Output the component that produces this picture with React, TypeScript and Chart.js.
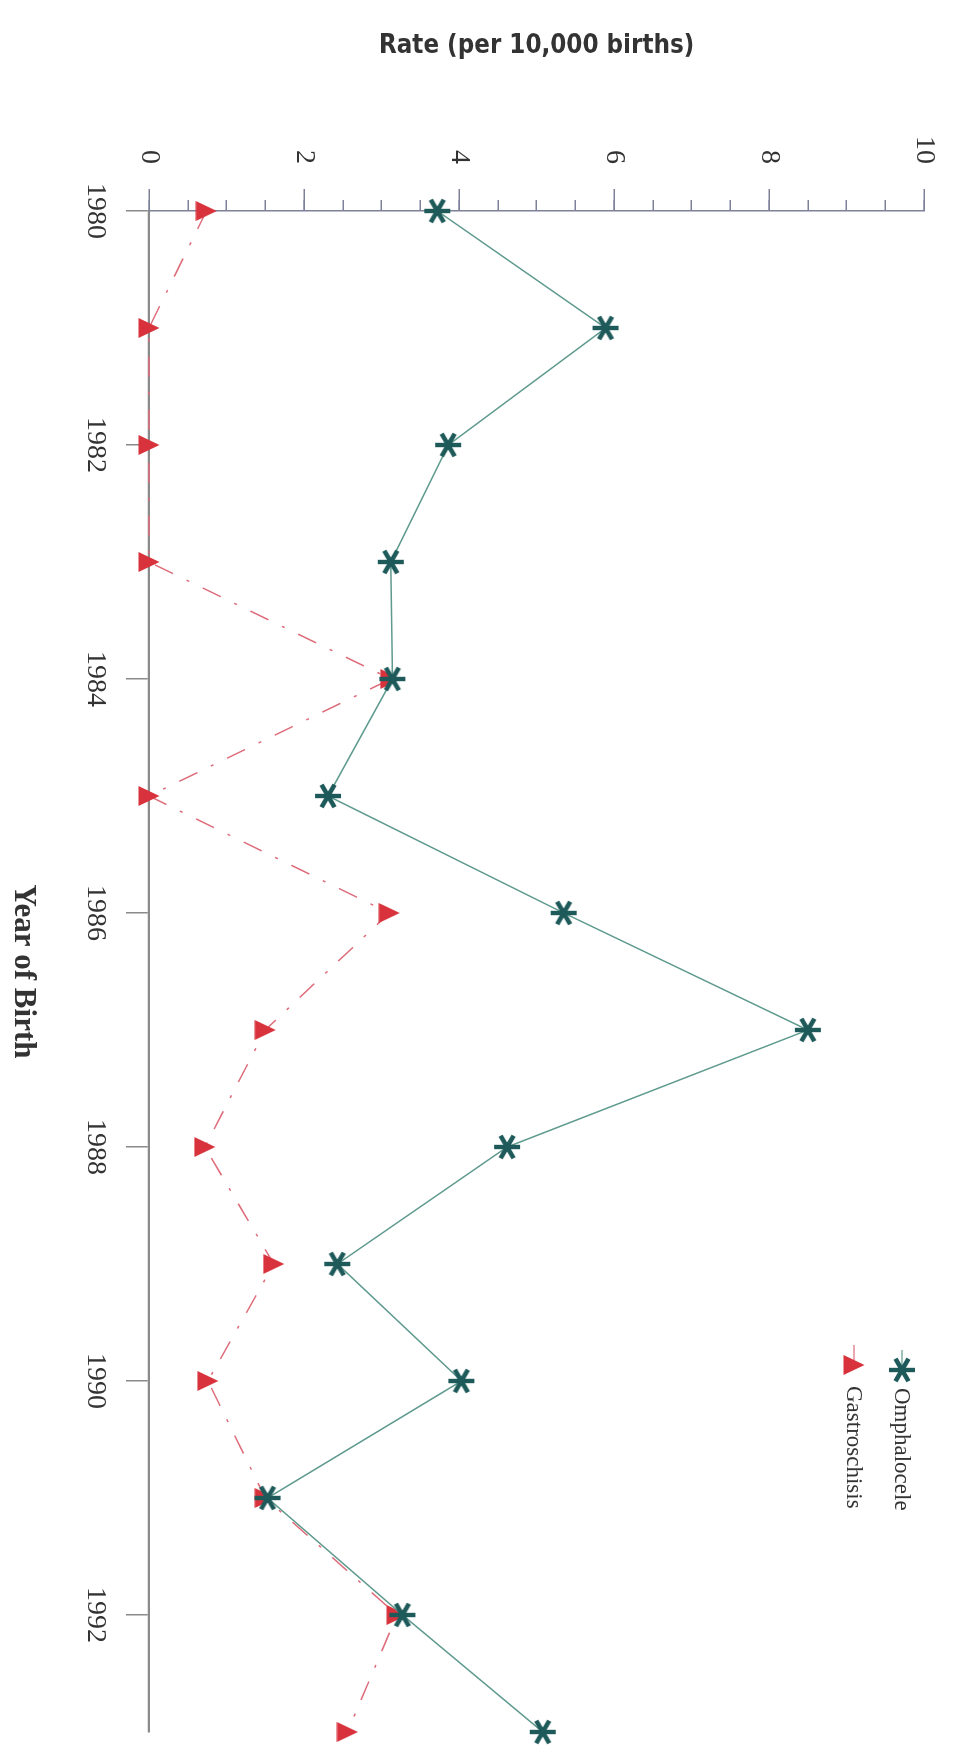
import React, { useEffect, useRef } from 'react';
import { Chart, registerables } from 'chart.js';

Chart.register(...registerables);

// ---- data ----
const years = [1980, 1981, 1982, 1983, 1984, 1985, 1986, 1987, 1988, 1989, 1990, 1991, 1992, 1993];
const omphalocele = [3.72, 5.89, 3.86, 3.12, 3.14, 2.31, 5.35, 8.5, 4.62, 2.43, 4.03, 1.53, 3.27, 5.08];
const gastroschisis = [0.74, 0, 0, 0, 3.12, 0, 3.1, 1.5, 0.72, 1.61, 0.76, 1.5, 3.2, 2.56];
const yearTicks = [1980, 1982, 1984, 1986, 1988, 1990, 1992];
const rateTicks = [0, 2, 4, 6, 8, 10];
const rateMinorTicks = [0, 0.5, 1, 1.5, 2, 2.5, 3, 3.5, 4, 4.5, 5, 5.5, 6, 6.5, 7, 7.5, 8, 8.5, 9, 9.5, 10];
const seriesNames = ['Omphalocele', 'Gastroschisis'];
const xTitle = 'Year of Birth';
const yTitle = 'Rate (per 10,000 births)';

// ---- styling ----
const W = 1753;
const H = 966;
const SERIF = "'Liberation Serif', 'Times New Roman', serif";
const SANS_NARROW = "'Liberation Sans Narrow', 'DejaVu Sans Condensed', 'Liberation Sans', Arial, sans-serif";
const OMPH_MARK = '#1f5a5a';
const OMPH_LINE = '#5f9a8e';
const GAS_MARK = '#d8323c';
const GAS_LINE = '#de6c7a';
const AXIS_H = '#7d8199';
const AXIS_V = '#8a8a8a';

function makeStar(color: string): HTMLCanvasElement {
  const c = document.createElement('canvas');
  c.width = 30;
  c.height = 30;
  const g = c.getContext('2d')!;
  g.strokeStyle = color;
  g.lineWidth = 4.4;
  g.lineCap = 'butt';
  const r = 13;
  for (let k = 0; k < 3; k++) {
    const a = Math.PI / 2 + (k * Math.PI) / 3;
    g.beginPath();
    g.moveTo(15 + r * Math.cos(a), 15 + r * Math.sin(a));
    g.lineTo(15 - r * Math.cos(a), 15 - r * Math.sin(a));
    g.stroke();
  }
  return c;
}

function makeTriangle(color: string): HTMLCanvasElement {
  const c = document.createElement('canvas');
  c.width = 22;
  c.height = 22;
  const g = c.getContext('2d')!;
  g.fillStyle = color;
  g.beginPath();
  g.moveTo(11, 0.5);
  g.lineTo(21, 21.5);
  g.lineTo(1, 21.5);
  g.closePath();
  g.fill();
  return c;
}

export default function App() {
  const ref = useRef<HTMLCanvasElement | null>(null);

  useEffect(() => {
    const canvas = ref.current;
    if (!canvas) return;

    // size the y-axis title to its measured length in the reference
    const mctx = document.createElement('canvas').getContext('2d')!;
    mctx.font = `bold 100px ${SANS_NARROW}`;
    const mw = mctx.measureText(yTitle).width || 1100;
    const yTitleSize = Math.round(((100 * 316) / mw) * 10) / 10;

    const star = makeStar(OMPH_MARK);
    const tri = makeTriangle(GAS_MARK);

    const legendPlugin = {
      id: 'insideLegend',
      afterDraw(chart: any) {
        const ctx = chart.ctx;
        const rows = [
          { img: star, line: OMPH_LINE, text: seriesNames[0], u: 1370, v: 64, tx: 1388 },
          { img: tri, line: GAS_LINE, text: seriesNames[1], u: 1365, v: 112, tx: 1386 },
        ];
        ctx.save();
        rows.forEach((r) => {
          ctx.strokeStyle = r.line;
          ctx.lineWidth = 1.2;
          ctx.beginPath();
          ctx.moveTo(r.u - 20, r.v);
          ctx.lineTo(r.u - 4, r.v);
          ctx.stroke();
          ctx.drawImage(r.img, r.u - r.img.width / 2, r.v - r.img.height / 2);
          ctx.fillStyle = '#333';
          ctx.font = `23px ${SERIF}`;
          ctx.textAlign = 'left';
          ctx.textBaseline = 'middle';
          ctx.fillText(r.text, r.tx, r.v + 1);
        });
        ctx.restore();
      },
    };

    Chart.defaults.color = '#333';

    const chart = new Chart(canvas, {
      type: 'line',
      data: {
        datasets: [
          {
            label: seriesNames[0],
            data: years.map((yr, i) => ({ x: yr, y: omphalocele[i] })),
            borderColor: OMPH_LINE,
            borderWidth: 1.5,
            pointStyle: star as any,
            pointRadius: 13,
            pointBackgroundColor: OMPH_MARK,
            pointBorderColor: OMPH_MARK,
            tension: 0,
            fill: false,
            clip: false as any,
            xAxisID: 'x',
            yAxisID: 'y',
          },
          {
            label: seriesNames[1],
            data: years.map((yr, i) => ({ x: yr, y: gastroschisis[i] })),
            borderColor: GAS_LINE,
            borderWidth: 1.5,
            borderDash: [20, 15, 3, 15],
            pointStyle: tri as any,
            pointRadius: 13,
            pointBackgroundColor: GAS_MARK,
            pointBorderColor: GAS_MARK,
            tension: 0,
            fill: false,
            clip: false as any,
            xAxisID: 'x',
            yAxisID: 'y',
          },
        ],
      },
      options: {
        responsive: false,
        devicePixelRatio: 1,
        animation: false,
        events: [],
        layout: { padding: { left: 0, top: 24, right: 21, bottom: 0 } },
        plugins: {
          legend: { display: false },
          tooltip: { enabled: false },
        },
        scales: {
          x: {
            type: 'linear',
            position: 'bottom',
            z: 1,
            min: 1980,
            max: 1993,
            afterBuildTicks: (s: any) => {
              s.ticks = yearTicks.map((v) => ({ value: v }));
            },
            afterFit: (s: any) => {
              s.height = 149;
            },
            ticks: {
              autoSkip: false,
              maxRotation: 0,
              padding: 14,
              color: '#333',
              font: { family: SERIF, size: 28 },
              callback: (v: any) => String(v),
            },
            grid: {
              drawOnChartArea: false,
              drawTicks: true,
              tickLength: 23,
              color: AXIS_V,
              lineWidth: 1.5,
            },
            border: { display: true, color: AXIS_V, width: 2.2 },
            title: {
              display: true,
              text: xTitle,
              color: '#333',
              font: { family: SERIF, size: 31, weight: 'bold' },
              padding: { top: 0, bottom: 4 },
            },
          },
          y: {
            type: 'linear',
            position: 'left',
            weight: 1,
            min: 0,
            max: 10,
            afterBuildTicks: (s: any) => {
              s.ticks = rateTicks.map((v) => ({ value: v }));
            },
            afterFit: (s: any) => {
              s.width = 211;
            },
            ticks: {
              padding: 25,
              color: '#333',
              font: { family: SERIF, size: 28 },
              callback: (v: any) => String(v),
            },
            grid: {
              drawOnChartArea: false,
              drawTicks: true,
              tickLength: 22,
              color: AXIS_H,
              lineWidth: 1.5,
            },
            border: { display: true, color: AXIS_H, width: 1.5 },
            title: {
              display: true,
              text: yTitle,
              color: '#333',
              font: { family: SANS_NARROW, size: yTitleSize, weight: 'bold' },
              padding: { top: Math.max(0, 46 - yTitleSize * 0.6), bottom: 0 },
            },
          },
          yMinor: {
            type: 'linear',
            position: 'left',
            weight: 0,
            min: 0,
            max: 10,
            afterBuildTicks: (s: any) => {
              s.ticks = rateMinorTicks.map((v) => ({ value: v }));
            },
            afterFit: (s: any) => {
              s.width = 0;
            },
            ticks: { display: false },
            grid: {
              drawOnChartArea: false,
              drawTicks: true,
              tickLength: 11,
              color: AXIS_H,
              lineWidth: 1.5,
            },
            border: { display: false },
          },
        },
      } as any,
      plugins: [legendPlugin],
    });

    return () => {
      chart.destroy();
    };
  }, []);

  return (
    <div
      style={{
        position: 'absolute',
        left: 0,
        top: 0,
        width: H,
        height: W,
        overflow: 'hidden',
        background: '#fff',
      }}
    >
      <canvas
        ref={ref}
        width={W}
        height={H}
        style={{
          position: 'absolute',
          left: 0,
          top: 0,
          width: W,
          height: H,
          transformOrigin: '0 0',
          transform: `translate(${H}px, 0px) rotate(90deg)`,
        }}
      />
    </div>
  );
}
